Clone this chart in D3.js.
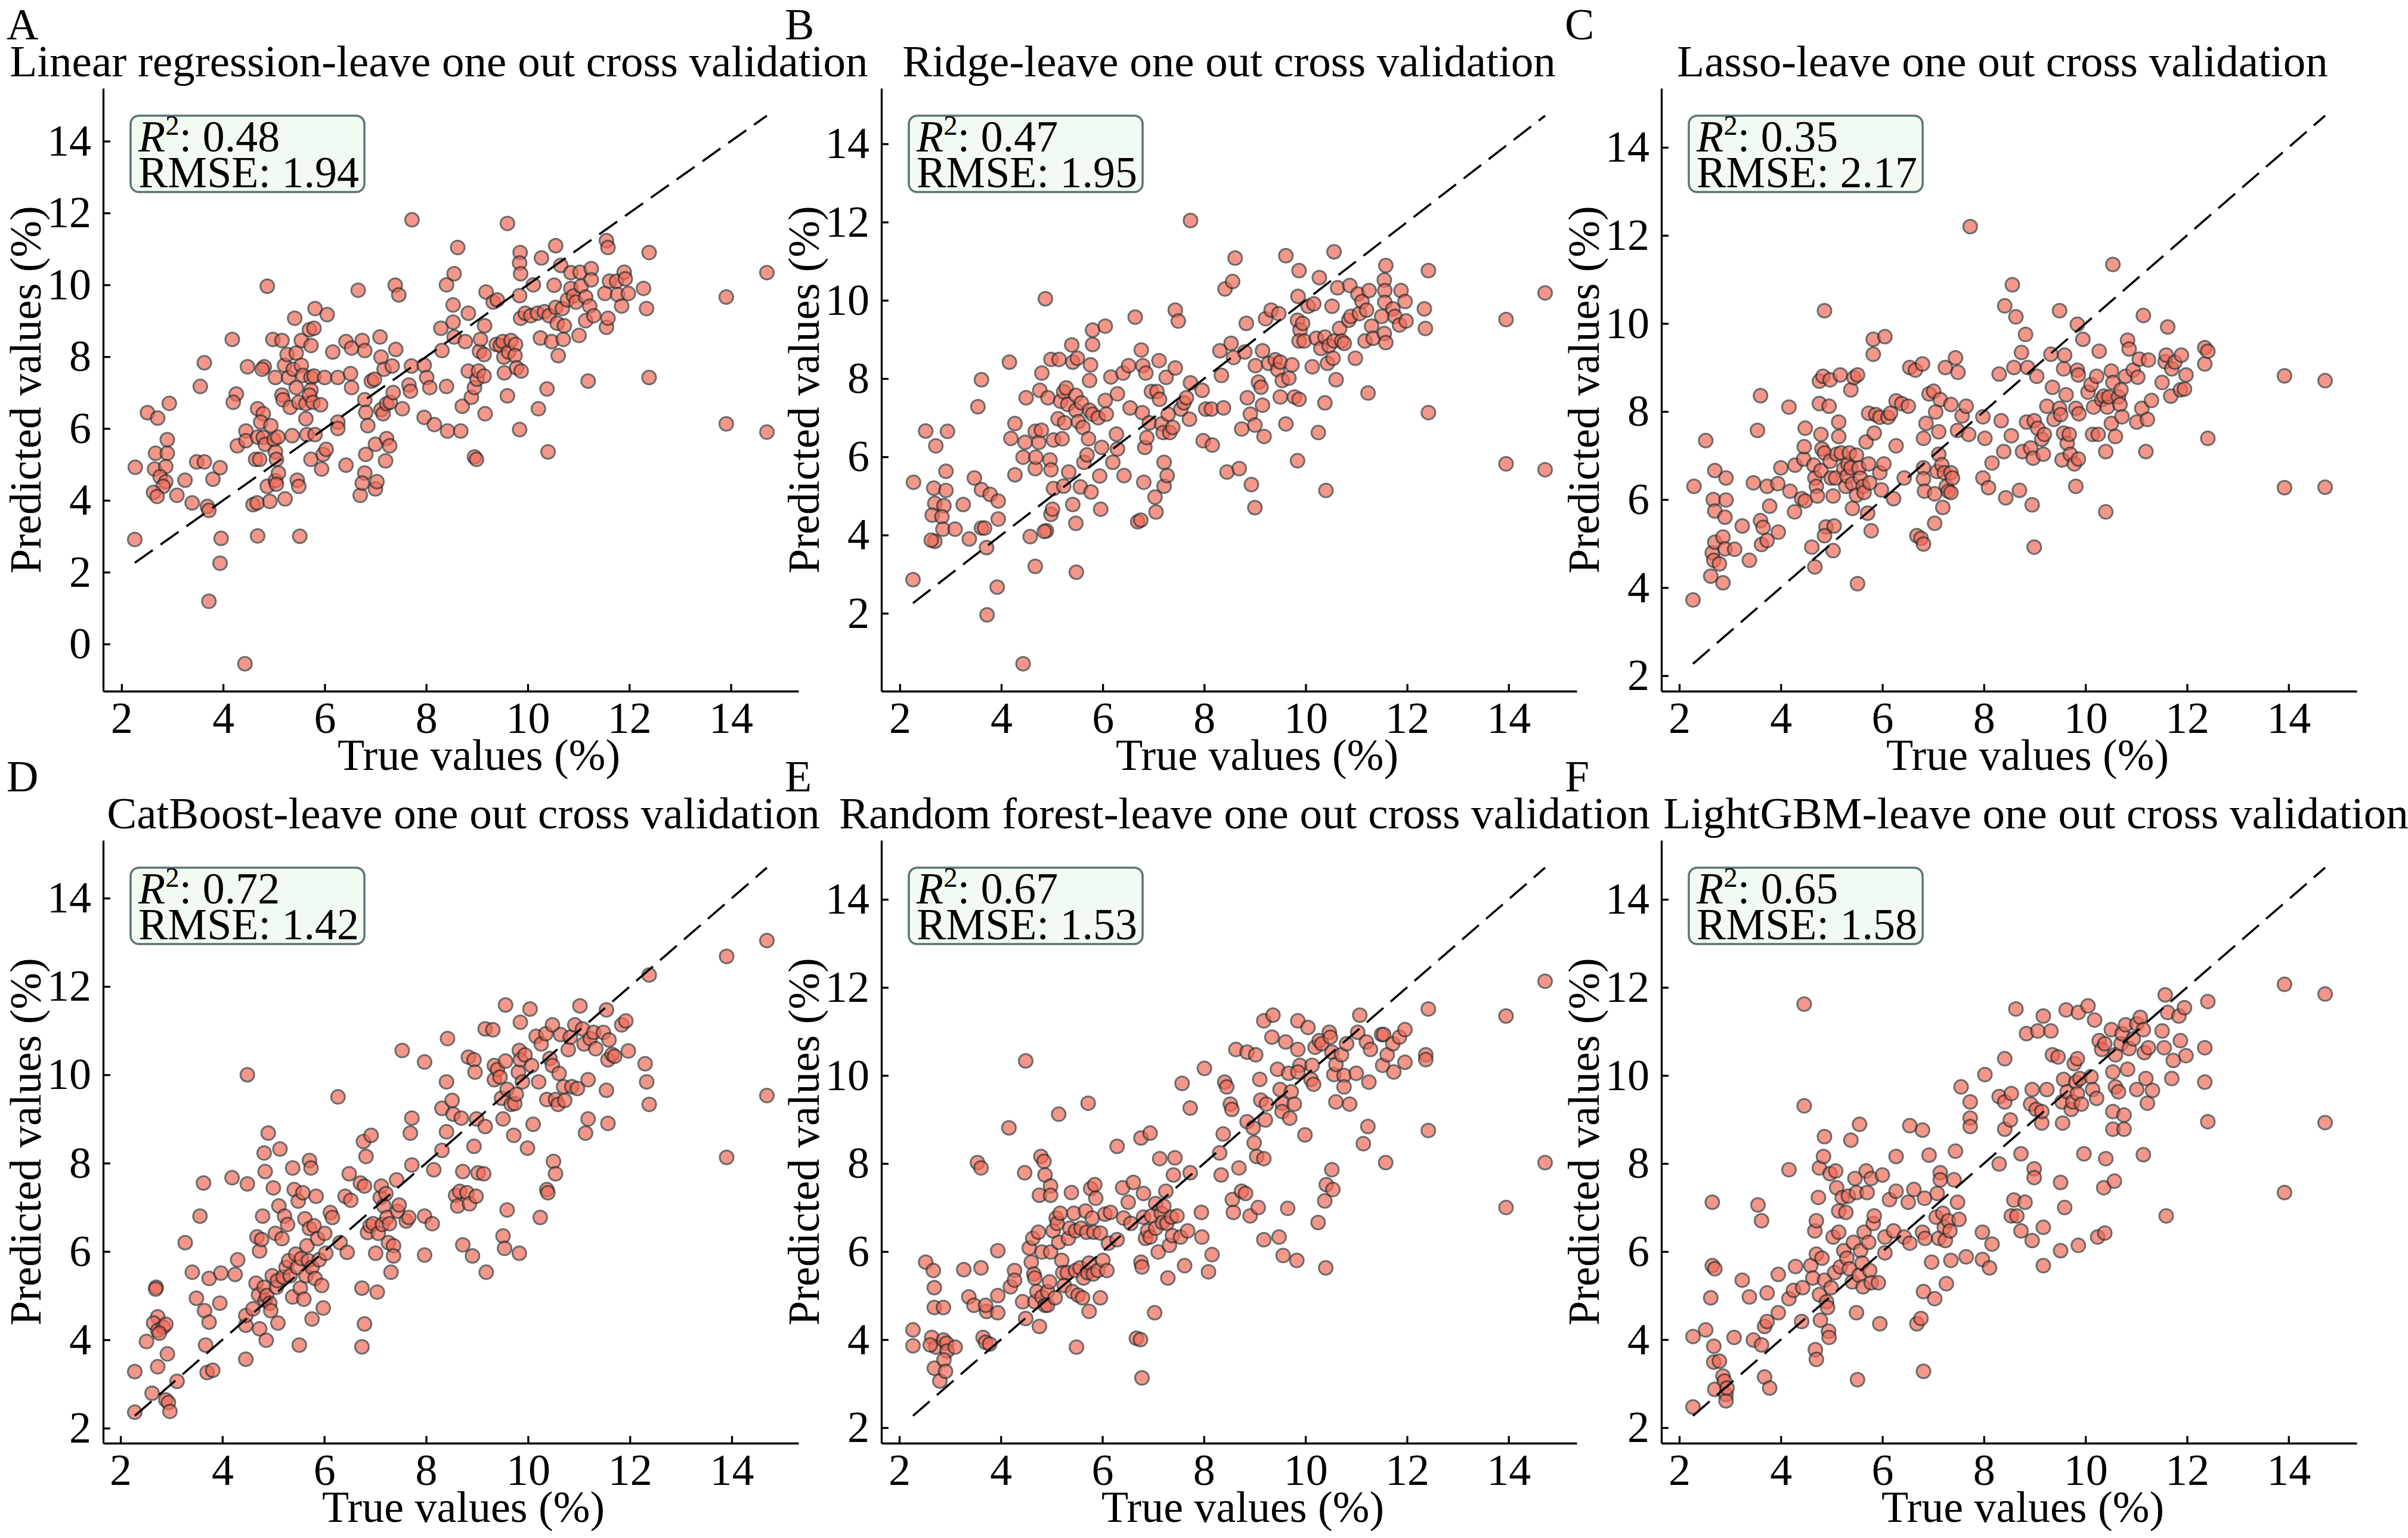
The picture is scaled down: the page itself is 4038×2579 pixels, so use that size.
<!DOCTYPE html>
<html><head><meta charset="utf-8">
<script src="https://cdn.jsdelivr.net/npm/d3@7"></script>
<style>
body{margin:0;background:#fff;}
svg text{font-family:"Liberation Serif","Times New Roman",serif;}
</style>
</head><body>
<svg id="chart" width="4038" height="2579"></svg>
<script>
// ---------- DATA ----------
const panelLetters = ["A","B","C","D","E","F"];
const panelTitles = [
  "Linear regression-leave one out cross validation",
  "Ridge-leave one out cross validation",
  "Lasso-leave one out cross validation",
  "CatBoost-leave one out cross validation",
  "Random forest-leave one out cross validation",
  "LightGBM-leave one out cross validation"
];
const r2Values = ["0.48","0.47","0.35","0.72","0.67","0.65"];
const rmseValues = ["1.94","1.95","2.17","1.42","1.53","1.58"];
const xLabel = "True values (%)";
const yLabel = "Predicted values (%)";
const xTickValues = [2,4,6,8,10,12,14];
const yTicksLinear = [0,2,4,6,8,10,12,14];
const yTicksOther = [2,4,6,8,10,12,14];

// [true value, predicted value]
const linearPts = [[2.26,2.91],[2.27,4.92],[2.51,6.44],[2.71,6.29],[2.94,6.70],[2.90,5.69],[2.67,5.31],[2.90,5.31],[2.65,4.87],[2.87,4.94],[2.76,4.66],[2.87,4.52],[2.82,4.39],[2.63,4.22],[2.70,4.11],[3.09,4.14],[3.25,4.56],[3.39,3.93],[3.48,5.07],[3.63,5.07],[3.69,3.83],[3.72,3.72],[3.55,7.17],[3.63,7.83],[3.80,4.59],[3.94,4.91],[3.96,2.94],[3.94,2.25],[3.72,1.19],[4.43,-0.55],[4.18,8.48],[4.26,6.96],[4.20,6.73],[4.28,5.52],[4.45,5.93],[4.48,7.72],[4.45,5.66],[4.59,3.88],[4.67,3.93],[4.68,3.01],[4.64,5.14],[4.72,5.14],[4.68,5.76],[4.79,5.75],[4.68,6.55],[4.79,6.41],[4.74,6.18],[4.81,7.72],[4.77,7.65],[4.87,9.96],[4.83,5.56],[4.87,4.39],[4.92,3.97],[4.94,6.08],[5.00,5.69],[5.03,5.35],[5.05,5.14],[5.03,4.55],[5.09,4.76],[5.05,4.45],[4.98,8.48],[5.16,8.45],[5.03,7.42],[5.08,5.76],[5.16,6.93],[5.18,6.80],[5.22,4.04],[5.21,7.76],[5.26,8.06],[5.29,7.42],[5.32,6.59],[5.36,5.80],[5.41,9.07],[5.44,8.10],[5.38,7.65],[5.44,7.14],[5.46,4.56],[5.49,4.39],[5.51,3.00],[5.54,8.45],[5.54,7.76],[5.57,7.48],[5.49,6.73],[5.63,6.69],[5.63,6.27],[5.65,5.83],[5.70,8.75],[5.79,8.79],[5.81,9.34],[5.73,8.31],[5.73,7.42],[5.79,7.46],[5.73,7.07],[5.70,6.93],[5.77,6.73],[5.73,5.14],[5.81,5.83],[5.92,6.66],[5.94,4.87],[5.97,5.28],[6.03,5.42],[6.00,7.42],[6.05,9.17],[6.16,8.13],[6.26,6.18],[6.26,6.00],[6.26,7.42],[6.42,4.98],[6.42,8.42],[6.53,8.24],[6.53,7.14],[6.51,7.53],[6.66,9.85],[6.70,4.14],[6.74,8.45],[6.79,8.17],[6.81,5.28],[6.79,4.76],[6.74,4.48],[6.79,6.80],[6.81,6.45],[6.85,6.08],[6.92,7.32],[6.98,7.37],[7.00,4.32],[7.03,4.52],[7.00,5.56],[7.09,8.55],[7.11,7.99],[7.17,7.65],[7.11,6.52],[7.15,6.41],[7.20,5.10],[7.22,5.72],[7.28,5.52],[7.22,6.69],[7.29,6.73],[7.35,7.00],[7.33,7.74],[7.39,9.99],[7.46,9.72],[7.40,8.20],[7.53,6.55],[7.66,7.21],[7.69,7.04],[7.71,7.74],[7.72,11.81],[7.96,7.76],[8.01,7.42],[8.07,7.14],[7.96,6.31],[8.16,6.11],[8.31,8.17],[8.29,8.79],[8.40,7.17],[8.42,5.93],[8.40,10.00],[8.55,10.31],[8.62,11.04],[8.53,9.44],[8.53,8.96],[8.55,8.55],[8.68,5.93],[8.71,6.62],[8.77,8.42],[8.83,9.21],[8.83,7.60],[8.89,6.87],[8.95,5.21],[8.99,5.14],[8.95,7.14],[9.00,7.37],[9.03,7.60],[9.05,8.15],[9.07,8.48],[9.14,8.06],[9.14,7.46],[9.16,6.41],[9.15,8.86],[9.18,9.80],[9.32,9.52],[9.40,9.58],[9.38,8.34],[9.46,8.31],[9.51,8.42],[9.54,7.55],[9.60,6.91],[9.53,7.99],[9.60,11.71],[9.62,8.13],[9.67,8.45],[9.76,8.34],[9.75,8.03],[9.78,7.69],[9.87,7.60],[9.84,9.70],[9.84,5.97],[9.85,10.90],[9.84,10.61],[9.86,10.31],[9.86,9.07],[9.95,9.21],[10.06,9.14],[10.11,10.00],[10.19,9.21],[10.25,8.52],[10.27,10.75],[10.21,6.55],[10.38,7.10],[10.40,5.35],[10.33,9.25],[10.42,9.14],[10.47,8.42],[10.52,9.99],[10.55,11.09],[10.55,9.37],[10.58,8.93],[10.60,8.03],[10.65,10.54],[10.68,9.34],[10.72,8.86],[10.70,8.48],[10.78,9.58],[10.85,10.34],[10.85,9.90],[10.90,9.69],[10.95,9.52],[11.01,8.59],[11.03,10.35],[11.05,9.96],[11.14,9.66],[11.14,9.00],[11.19,7.32],[11.22,9.41],[11.25,10.45],[11.25,10.14],[11.30,9.14],[11.55,11.23],[11.58,11.04],[11.52,9.76],[11.55,8.82],[11.58,9.07],[11.61,10.10],[11.75,10.10],[11.77,9.73],[11.85,9.41],[11.90,10.35],[11.92,10.17],[11.98,9.76],[12.28,9.90],[12.34,9.34],[12.39,10.90],[12.39,7.42],[13.91,9.66],[13.91,6.13],[14.71,10.34],[14.71,5.90]];

const ridgePts = [[2.27,5.35],[2.26,2.86],[2.51,6.66],[2.71,6.28],[2.94,6.65],[2.91,5.63],[2.67,5.20],[2.91,5.14],[2.69,4.81],[2.87,4.75],[2.64,4.51],[2.83,4.47],[2.85,4.15],[2.69,3.84],[2.62,3.87],[3.09,4.15],[3.25,4.78],[3.37,3.90],[3.47,5.46],[3.54,7.28],[3.61,7.97],[3.61,5.16],[3.61,4.18],[3.67,4.18],[3.78,5.04],[3.71,3.68],[3.72,1.96],[3.94,4.87],[3.94,4.41],[3.92,2.67],[4.16,8.42],[4.19,6.47],[4.27,6.85],[4.27,5.54],[4.43,5.99],[4.49,7.51],[4.47,6.37],[4.43,0.71],[4.57,3.96],[4.67,3.20],[4.67,6.65],[4.67,5.70],[4.68,5.99],[4.74,6.37],[4.79,6.68],[4.76,7.70],[4.80,8.14],[4.87,10.04],[4.89,4.11],[4.85,4.09],[4.96,5.92],[4.92,7.51],[4.98,5.67],[4.98,4.53],[5.01,4.66],[5.03,5.19],[4.98,8.49],[5.03,6.43],[5.12,6.97],[5.14,8.49],[5.17,7.42],[5.20,6.46],[5.23,5.25],[5.23,7.66],[5.28,7.76],[5.25,6.87],[5.31,7.34],[5.33,5.61],[5.39,8.86],[5.41,8.42],[5.41,4.78],[5.47,4.30],[5.48,3.05],[5.50,8.52],[5.47,7.57],[5.47,7.19],[5.52,6.90],[5.56,5.23],[5.58,7.38],[5.63,5.86],[5.61,6.75],[5.69,6.05],[5.72,6.46],[5.74,7.19],[5.76,8.35],[5.74,7.95],[5.80,9.24],[5.77,5.10],[5.80,8.87],[5.80,7.09],[5.91,7.00],[5.94,5.51],[5.96,4.66],[5.98,6.24],[6.05,9.34],[6.05,7.44],[6.07,7.09],[6.16,8.04],[6.20,5.86],[6.27,6.58],[6.29,6.20],[6.29,7.61],[6.42,5.52],[6.40,8.14],[6.51,8.33],[6.54,7.25],[6.64,9.57],[6.69,4.34],[6.75,4.38],[6.76,8.73],[6.79,8.33],[6.78,7.13],[6.81,5.35],[6.83,6.24],[6.85,8.14],[6.87,6.49],[6.92,6.87],[6.96,7.67],[7.03,4.97],[7.05,4.59],[7.07,7.67],[7.11,8.46],[7.12,7.47],[7.16,6.84],[7.21,5.86],[7.19,6.62],[7.21,5.25],[7.27,5.52],[7.25,8.03],[7.29,7.09],[7.32,6.62],[7.38,6.75],[7.43,8.27],[7.43,9.75],[7.49,9.47],[7.54,7.22],[7.60,7.38],[7.65,7.51],[7.73,7.89],[7.71,6.96],[7.73,12.04],[7.96,7.70],[7.98,6.41],[8.03,7.22],[8.14,7.22],[8.16,6.30],[8.34,8.08],[8.31,8.71],[8.38,7.25],[8.41,10.29],[8.45,5.61],[8.53,8.90],[8.56,10.48],[8.58,8.54],[8.61,11.08],[8.69,5.70],[8.74,6.71],[8.80,8.68],[8.83,9.41],[8.85,7.51],[8.91,7.09],[8.93,5.29],[9.00,4.70],[9.00,6.81],[9.01,8.33],[9.07,7.91],[9.12,7.78],[9.15,7.32],[9.15,8.71],[9.18,6.52],[9.21,9.53],[9.27,8.39],[9.32,9.75],[9.40,8.48],[9.45,8.23],[9.47,9.66],[9.50,8.42],[9.50,7.53],[9.54,7.95],[9.61,11.14],[9.61,6.84],[9.67,8.01],[9.73,8.35],[9.78,7.53],[9.84,5.90],[9.87,7.47],[9.87,10.76],[9.85,10.10],[9.84,9.49],[9.89,9.24],[9.87,8.96],[9.94,9.41],[9.97,8.96],[10.05,9.85],[10.13,8.30],[10.16,9.91],[10.21,9.03],[10.25,6.62],[10.27,10.58],[10.30,8.77],[10.38,7.38],[10.38,9.06],[10.40,5.14],[10.43,8.39],[10.46,8.84],[10.52,9.85],[10.54,8.52],[10.56,11.24],[10.56,8.96],[10.60,7.97],[10.63,10.32],[10.67,9.28],[10.71,8.96],[10.76,8.90],[10.85,9.49],[10.87,10.38],[10.89,9.59],[10.98,8.52],[11.03,10.16],[11.06,9.66],[11.11,9.97],[11.17,8.96],[11.20,9.75],[11.25,10.25],[11.23,7.63],[11.30,9.34],[11.33,9.03],[11.50,9.59],[11.55,10.52],[11.56,10.25],[11.58,10.89],[11.56,9.95],[11.55,9.15],[11.58,8.92],[11.72,9.78],[11.76,9.59],[11.85,9.37],[11.88,10.25],[11.96,9.97],[11.98,9.47],[12.34,9.78],[12.36,9.28],[12.42,10.76],[12.42,7.13],[13.95,9.51],[13.95,5.82],[14.72,10.19],[14.72,5.67]];

const lassoPts = [[2.27,3.72],[2.29,6.30],[2.52,7.34],[2.70,6.66],[2.67,6.00],[2.70,5.74],[2.65,4.79],[2.70,5.03],[2.68,4.62],[2.79,4.54],[2.62,4.26],[2.86,4.11],[2.92,6.49],[2.92,5.99],[2.90,5.60],[2.86,5.15],[2.90,4.88],[3.09,4.87],[3.24,5.40],[3.38,4.62],[3.46,6.38],[3.54,7.57],[3.60,8.36],[3.60,5.52],[3.65,5.37],[3.62,4.98],[3.73,6.30],[3.73,5.07],[3.78,5.85],[3.95,5.26],[3.94,6.36],[4.00,6.72],[4.16,8.10],[4.18,6.19],[4.27,5.72],[4.28,6.78],[4.41,6.02],[4.45,6.92],[4.46,7.20],[4.48,7.62],[4.48,5.97],[4.61,4.92],[4.67,4.47],[4.65,6.78],[4.67,6.49],[4.70,6.30],[4.72,6.08],[4.76,8.69],[4.76,8.18],[4.79,7.48],[4.81,7.15],[4.79,6.66],[4.83,8.80],[4.86,10.29],[4.86,7.06],[4.89,5.38],[4.86,5.18],[4.95,8.12],[4.97,8.72],[4.97,6.87],[4.99,6.49],[5.03,6.08],[5.05,5.40],[5.03,4.84],[5.08,6.49],[5.10,7.03],[5.14,7.76],[5.14,7.43],[5.17,8.83],[5.19,7.06],[5.24,6.70],[5.28,6.30],[5.30,6.53],[5.32,6.81],[5.35,7.06],[5.38,8.49],[5.38,6.72],[5.41,6.36],[5.41,5.80],[5.44,8.77],[5.49,7.01],[5.49,6.10],[5.51,8.83],[5.51,4.09],[5.54,6.72],[5.57,6.49],[5.62,6.30],[5.64,6.16],[5.68,7.31],[5.71,5.69],[5.73,7.96],[5.73,6.81],[5.75,6.38],[5.78,5.29],[5.82,9.64],[5.82,9.30],[5.84,7.51],[5.87,7.93],[5.95,7.87],[5.95,6.61],[5.98,6.22],[6.03,6.81],[6.05,9.70],[6.11,7.87],[6.16,7.96],[6.22,6.02],[6.27,8.24],[6.27,7.22],[6.38,8.18],[6.43,6.49],[6.51,8.12],[6.54,9.00],[6.65,8.94],[6.68,5.18],[6.76,5.12],[6.81,4.99],[6.79,9.08],[6.81,7.39],[6.81,6.72],[6.81,6.47],[6.83,6.19],[6.86,7.73],[6.92,8.40],[7.01,8.46],[7.03,6.13],[7.03,5.46],[7.05,7.99],[7.08,6.64],[7.11,7.54],[7.11,7.03],[7.14,8.27],[7.17,6.79],[7.19,5.82],[7.22,6.61],[7.24,9.00],[7.26,6.30],[7.30,6.19],[7.35,8.16],[7.35,6.61],[7.38,6.49],[7.35,6.16],[7.44,9.22],[7.49,8.89],[7.48,7.57],[7.57,7.90],[7.65,8.12],[7.70,7.48],[7.73,12.20],[7.98,6.49],[7.98,7.88],[8.02,7.39],[8.09,6.27],[8.16,6.83],[8.30,8.85],[8.34,7.79],[8.39,7.09],[8.41,10.40],[8.43,6.04],[8.54,7.45],[8.56,10.88],[8.59,9.00],[8.63,10.15],[8.70,6.21],[8.74,9.34],[8.76,7.09],[8.82,9.75],[8.84,7.76],[8.86,9.00],[8.92,7.17],[8.95,5.88],[8.97,6.94],[8.99,4.92],[8.99,7.79],[9.04,8.80],[9.06,7.62],[9.14,7.37],[9.17,7.03],[9.19,7.48],[9.24,8.12],[9.32,9.30],[9.35,8.55],[9.38,7.82],[9.49,10.29],[9.49,8.07],[9.51,7.93],[9.54,6.90],[9.57,8.97],[9.57,7.51],[9.59,9.28],[9.62,8.38],[9.64,7.28],[9.68,7.48],[9.70,7.03],[9.78,6.81],[9.81,8.07],[9.81,6.30],[9.84,8.94],[9.84,9.98],[9.86,8.83],[9.87,7.95],[9.86,6.92],[9.95,9.64],[10.05,8.44],[10.11,8.61],[10.14,7.48],[10.16,8.10],[10.22,8.80],[10.25,7.48],[10.27,9.37],[10.32,8.27],[10.36,8.35],[10.40,7.09],[10.40,5.72],[10.43,8.10],[10.46,8.33],[10.51,7.73],[10.51,8.92],[10.54,11.34],[10.54,8.66],[10.59,7.43],[10.65,8.33],[10.68,8.16],[10.70,8.49],[10.72,7.88],[10.79,8.80],[10.83,9.62],[10.86,9.42],[10.94,8.94],[11.01,7.76],[11.03,8.78],[11.06,9.19],[11.11,8.07],[11.14,10.18],[11.19,7.09],[11.22,7.82],[11.24,9.17],[11.30,8.25],[11.51,8.66],[11.57,9.13],[11.59,9.28],[11.62,9.92],[11.68,8.35],[11.70,8.97],[11.76,9.12],[11.87,8.49],[11.89,9.28],[11.95,8.51],[11.98,8.83],[12.35,9.45],[12.35,9.08],[12.41,9.37],[12.41,7.39],[13.92,8.81],[13.92,6.27],[14.72,8.70],[14.72,6.28]];

const catboostPts = [[2.28,2.36],[2.28,3.28],[2.51,3.96],[2.62,2.79],[2.70,5.19],[2.69,5.15],[2.73,4.52],[2.65,4.38],[2.73,4.21],[2.84,4.29],[2.89,4.35],[2.76,4.15],[2.73,3.39],[2.92,3.68],[2.89,2.64],[2.94,2.58],[2.97,2.38],[3.11,3.06],[3.27,6.20],[3.41,5.53],[3.49,4.94],[3.56,6.80],[3.63,7.55],[3.65,4.66],[3.67,3.88],[3.70,3.26],[3.81,3.31],[3.74,4.40],[3.74,5.39],[3.95,4.83],[3.97,5.51],[4.19,7.67],[4.25,5.48],[4.30,5.81],[4.46,3.56],[4.46,4.33],[4.49,10.00],[4.49,7.53],[4.46,4.55],[4.60,4.70],[4.66,5.28],[4.68,6.33],[4.71,5.02],[4.73,6.01],[4.73,4.25],[4.77,6.27],[4.79,6.80],[4.82,8.23],[4.84,7.81],[4.82,5.19],[4.84,4.89],[4.86,3.99],[4.90,8.68],[4.87,5.00],[4.93,4.83],[4.95,4.66],[4.98,5.45],[5.00,7.44],[5.04,6.41],[5.06,5.19],[5.08,5.34],[5.09,4.38],[5.11,7.03],[5.13,8.32],[5.17,6.29],[5.19,5.42],[5.22,6.80],[5.25,5.64],[5.28,6.61],[5.30,5.79],[5.33,5.45],[5.38,7.89],[5.38,4.97],[5.41,7.40],[5.44,5.94],[5.47,5.64],[5.49,7.14],[5.51,3.88],[5.53,5.17],[5.55,5.84],[5.58,7.33],[5.60,4.92],[5.62,6.74],[5.64,5.45],[5.66,6.13],[5.69,5.79],[5.71,6.52],[5.71,8.06],[5.74,7.89],[5.76,5.64],[5.76,4.47],[5.80,6.58],[5.82,5.39],[5.84,7.25],[5.87,6.29],[5.90,5.81],[5.95,5.23],[5.98,4.72],[6.01,6.41],[6.03,5.96],[6.12,6.88],[6.16,6.77],[6.27,9.50],[6.31,6.20],[6.41,7.25],[6.45,5.98],[6.49,7.76],[6.52,7.16],[6.71,7.55],[6.74,5.17],[6.74,3.84],[6.77,8.49],[6.79,4.36],[6.82,8.15],[6.79,7.48],[6.85,6.43],[6.90,6.58],[6.92,8.63],[6.96,6.63],[7.01,5.96],[7.04,5.08],[7.06,6.41],[7.10,7.22],[7.12,7.48],[7.14,6.61],[7.17,7.03],[7.21,7.31],[7.23,6.77],[7.26,6.20],[7.28,6.63],[7.31,5.53],[7.36,6.13],[7.36,5.90],[7.42,7.62],[7.44,6.91],[7.47,7.05],[7.53,10.55],[7.61,6.69],[7.66,6.77],[7.72,9.02],[7.69,8.68],[7.72,7.96],[7.97,10.29],[7.97,6.80],[7.97,5.92],[8.12,6.63],[8.15,7.85],[8.31,8.29],[8.31,9.24],[8.40,9.84],[8.42,10.82],[8.40,8.71],[8.51,9.42],[8.53,9.11],[8.58,7.27],[8.62,7.03],[8.66,7.36],[8.69,9.02],[8.72,7.81],[8.72,6.15],[8.80,7.33],[8.83,10.40],[8.85,7.08],[8.91,5.90],[8.94,10.34],[8.96,10.06],[8.94,8.38],[8.98,7.25],[8.99,9.00],[9.02,7.78],[9.13,7.76],[9.16,11.04],[9.16,8.83],[9.18,5.53],[9.31,11.02],[9.34,10.21],[9.34,9.89],[9.40,10.12],[9.45,9.95],[9.48,9.47],[9.51,9.00],[9.51,6.35],[9.54,6.07],[9.56,10.31],[9.56,11.58],[9.59,9.67],[9.59,6.94],[9.67,9.33],[9.72,8.63],[9.74,9.35],[9.77,9.56],[9.81,10.06],[9.83,10.55],[9.85,10.34],[9.83,5.96],[9.85,11.19],[9.89,9.84],[9.94,10.45],[9.99,8.34],[10.04,11.49],[10.07,10.21],[10.10,8.88],[10.16,10.87],[10.21,9.84],[10.24,6.77],[10.26,10.70],[10.35,10.93],[10.37,9.44],[10.37,7.40],[10.39,7.33],[10.43,10.37],[10.48,11.13],[10.48,10.21],[10.50,8.04],[10.54,7.76],[10.54,9.44],[10.59,9.33],[10.61,10.03],[10.64,10.91],[10.70,9.73],[10.72,9.42],[10.79,10.57],[10.83,10.85],[10.86,9.73],[10.92,11.13],[10.97,9.69],[11.02,11.56],[11.07,11.04],[11.10,10.70],[11.13,8.68],[11.18,9.00],[11.18,9.89],[11.22,10.82],[11.29,10.96],[11.33,10.59],[11.48,10.96],[11.54,9.65],[11.54,11.47],[11.57,10.34],[11.57,8.90],[11.59,10.79],[11.65,10.46],[11.70,10.42],[11.84,11.13],[11.92,11.22],[11.97,10.54],[12.30,10.25],[12.33,9.84],[12.38,9.33],[12.38,12.26],[13.90,12.68],[13.90,8.13],[14.69,13.04],[14.69,9.53]];

const randomForestPts = [[2.27,4.22],[2.27,3.86],[2.52,5.76],[2.67,5.57],[2.69,5.18],[2.69,4.73],[2.87,4.73],[2.64,4.05],[2.72,3.83],[2.61,3.88],[2.87,3.99],[2.93,3.92],[2.94,3.74],[3.10,3.83],[2.69,3.35],[2.88,3.54],[2.80,3.06],[2.91,3.28],[3.27,5.59],[3.37,4.97],[3.47,4.78],[3.54,8.02],[3.61,7.90],[3.61,5.63],[3.65,4.05],[3.72,4.64],[3.70,3.94],[3.78,3.90],[3.70,4.78],[3.94,6.02],[3.94,5.00],[3.94,4.61],[4.16,8.81],[4.19,5.20],[4.27,5.57],[4.27,5.35],[4.43,4.86],[4.47,7.79],[4.49,10.33],[4.49,4.48],[4.56,6.08],[4.60,5.76],[4.63,6.30],[4.65,5.49],[4.67,5.40],[4.67,4.86],[4.71,5.09],[4.74,6.44],[4.76,4.30],[4.76,7.28],[4.79,8.16],[4.81,5.99],[4.85,8.05],[4.87,7.74],[4.81,4.97],[4.87,4.78],[4.92,5.09],[4.92,4.78],[4.96,5.31],[4.98,7.49],[4.98,7.28],[4.98,5.99],[5.03,6.47],[5.07,4.95],[5.09,6.76],[5.11,6.64],[5.14,9.12],[5.14,6.21],[5.17,6.87],[5.20,5.80],[5.22,5.52],[5.25,5.23],[5.31,5.52],[5.33,6.30],[5.36,6.53],[5.39,7.34],[5.41,5.09],[5.44,6.87],[5.47,5.57],[5.47,6.47],[5.49,3.83],[5.52,5.01],[5.56,5.63],[5.58,6.53],[5.61,4.95],[5.63,5.40],[5.67,6.92],[5.69,6.44],[5.71,5.52],[5.72,9.37],[5.74,5.74],[5.74,4.64],[5.77,7.43],[5.80,6.76],[5.82,5.49],[5.83,6.44],[5.85,7.52],[5.87,7.21],[5.91,5.57],[5.96,6.42],[5.96,4.95],[6.01,5.80],[6.05,6.85],[6.09,5.57],[6.12,6.19],[6.16,6.89],[6.29,6.27],[6.29,8.39],[6.40,7.45],[6.42,6.76],[6.51,7.12],[6.56,6.64],[6.61,7.57],[6.67,4.03],[6.75,4.00],[6.78,3.13],[6.76,8.58],[6.76,5.76],[6.78,5.65],[6.81,7.32],[6.81,6.78],[6.85,6.30],[6.89,6.47],[6.94,8.69],[6.94,6.33],[6.97,6.81],[7.03,4.61],[7.05,7.09],[7.05,6.53],[7.10,5.99],[7.13,8.11],[7.16,6.87],[7.18,6.66],[7.21,7.03],[7.25,7.37],[7.27,6.64],[7.29,5.40],[7.32,6.14],[7.36,6.78],[7.38,6.36],[7.40,7.74],[7.43,8.13],[7.47,6.81],[7.54,6.33],[7.57,9.82],[7.62,5.68],[7.68,6.47],[7.73,9.26],[7.73,7.79],[7.95,6.89],[7.96,6.33],[8.01,10.16],[8.09,5.54],[8.16,5.93],[8.31,8.24],[8.34,7.74],[8.38,8.67],[8.41,9.85],[8.45,9.74],[8.52,9.35],[8.55,9.23],[8.56,7.18],[8.58,6.89],[8.63,10.59],[8.69,7.90],[8.74,7.37],[8.82,7.32],[8.85,10.53],[8.85,8.95],[8.91,6.81],[8.97,8.81],[8.99,8.47],[9.02,10.47],[9.04,8.16],[9.07,7.00],[9.10,9.91],[9.12,9.44],[9.18,11.24],[9.18,8.11],[9.18,6.27],[9.21,8.99],[9.23,9.35],[9.34,10.87],[9.36,11.37],[9.45,10.14],[9.48,6.33],[9.50,9.68],[9.54,9.37],[9.54,9.18],[9.56,5.91],[9.61,10.76],[9.65,6.98],[9.67,10.05],[9.69,9.03],[9.72,9.63],[9.78,9.35],[9.83,5.80],[9.85,11.24],[9.85,10.59],[9.89,10.23],[9.85,10.08],[9.99,8.65],[10.05,11.09],[10.11,9.91],[10.13,10.23],[10.16,9.80],[10.19,10.64],[10.25,6.66],[10.27,10.79],[10.32,10.72],[10.38,7.15],[10.40,5.63],[10.41,7.52],[10.47,10.98],[10.49,10.87],[10.52,10.53],[10.52,7.86],[10.56,10.02],[10.54,7.41],[10.60,10.25],[10.60,9.40],[10.71,10.47],[10.76,10.00],[10.76,9.74],[10.81,10.72],[10.87,9.35],[11.00,10.05],[11.03,10.98],[11.07,11.37],[11.14,8.45],[11.20,10.76],[11.23,8.84],[11.25,9.85],[11.28,10.59],[11.50,10.93],[11.52,10.23],[11.54,10.93],[11.61,10.47],[11.58,8.02],[11.72,10.72],[11.74,10.08],[11.85,10.87],[11.96,11.04],[11.96,10.30],[12.37,10.47],[12.37,10.36],[12.42,11.51],[12.42,8.75],[13.95,11.35],[13.95,7.00],[14.72,12.14],[14.72,8.02]];

const lightgbmPts = [[2.27,2.47],[2.27,4.07],[2.52,4.22],[2.65,7.12],[2.65,5.68],[2.70,5.61],[2.62,4.95],[2.68,3.85],[2.68,3.49],[2.79,3.51],[2.70,2.87],[2.86,3.17],[2.89,3.06],[2.92,2.75],[2.92,2.61],[2.94,2.90],[3.08,4.05],[3.24,5.35],[3.38,4.97],[3.46,3.99],[3.55,7.06],[3.62,6.70],[3.62,3.88],[3.68,4.30],[3.73,5.06],[3.68,3.15],[3.78,2.90],[3.73,4.41],[3.95,4.61],[3.95,5.48],[4.16,7.86],[4.16,4.93],[4.29,5.66],[4.25,5.12],[4.41,4.41],[4.43,5.18],[4.46,11.62],[4.46,9.31],[4.59,5.68],[4.63,5.40],[4.67,6.47],[4.70,6.70],[4.70,5.94],[4.68,3.77],[4.70,3.55],[4.74,7.23],[4.76,7.90],[4.76,5.02],[4.78,4.44],[4.81,5.85],[4.86,8.61],[4.84,8.16],[4.86,5.35],[4.90,4.86],[4.92,4.73],[4.94,4.19],[4.95,4.05],[4.97,7.77],[4.99,5.18],[5.03,6.33],[5.06,5.52],[5.08,7.83],[5.10,7.45],[5.14,6.44],[5.14,6.92],[5.17,5.65],[5.21,7.23],[5.24,6.02],[5.28,6.89],[5.30,5.85],[5.33,7.26],[5.35,5.61],[5.38,8.53],[5.41,5.31],[5.43,6.21],[5.46,7.66],[5.49,4.61],[5.49,7.34],[5.51,3.09],[5.54,5.46],[5.55,8.89],[5.57,6.02],[5.60,5.74],[5.62,5.20],[5.64,6.44],[5.68,7.83],[5.70,7.34],[5.73,6.21],[5.75,5.57],[5.78,7.66],[5.78,5.29],[5.82,6.64],[5.84,6.81],[5.92,5.29],[5.95,4.36],[6.00,7.74],[6.05,5.97],[6.05,6.33],[6.14,7.18],[6.22,6.47],[6.27,8.16],[6.27,7.37],[6.43,6.33],[6.51,7.12],[6.54,6.19],[6.54,8.86],[6.62,7.41],[6.68,4.36],[6.76,4.48],[6.79,8.76],[6.79,6.44],[6.81,5.09],[6.83,7.21],[6.84,6.30],[6.81,3.28],[6.92,8.19],[6.97,5.76],[7.03,4.93],[7.06,6.78],[7.08,7.32],[7.11,6.30],[7.14,7.79],[7.14,7.63],[7.19,6.87],[7.22,6.55],[7.24,6.25],[7.26,5.27],[7.30,6.70],[7.33,6.47],[7.35,5.80],[7.41,7.63],[7.44,8.28],[7.48,7.12],[7.51,6.73],[7.55,9.74],[7.65,5.88],[7.73,9.40],[7.73,9.03],[7.73,8.84],[7.97,5.82],[7.97,6.44],[8.02,10.02],[8.11,5.63],[8.16,6.17],[8.30,7.99],[8.30,9.52],[8.41,10.38],[8.41,9.40],[8.41,8.78],[8.52,8.99],[8.54,9.59],[8.54,6.81],[8.59,7.17],[8.63,11.51],[8.65,6.81],[8.73,8.22],[8.73,6.47],[8.81,7.12],[8.84,10.95],[8.92,9.35],[8.95,9.68],[8.95,6.25],[8.99,7.88],[8.99,7.68],[9.03,9.23],[9.06,11.01],[9.14,8.92],[9.14,9.18],[9.17,11.35],[9.17,6.55],[9.17,5.68],[9.24,9.68],[9.32,11.01],[9.35,10.47],[9.46,10.42],[9.51,7.57],[9.51,6.02],[9.54,9.40],[9.55,8.92],[9.57,9.91],[9.59,7.00],[9.62,11.49],[9.64,9.63],[9.72,9.23],[9.75,9.40],[9.78,10.27],[9.81,9.85],[9.84,10.38],[9.84,9.59],[9.86,11.43],[9.86,6.14],[9.89,9.93],[9.92,9.35],[9.97,8.22],[10.05,11.58],[10.11,9.97],[10.14,9.68],[10.18,11.26],[10.22,9.48],[10.24,6.33],[10.27,10.79],[10.32,10.59],[10.38,10.72],[10.40,8.11],[10.38,6.42],[10.36,7.45],[10.51,11.04],[10.54,10.08],[10.54,9.18],[10.54,8.78],[10.57,7.60],[10.59,10.47],[10.59,9.74],[10.65,9.63],[10.70,10.72],[10.72,10.95],[10.76,9.10],[10.76,8.78],[10.79,11.15],[10.83,10.14],[10.86,10.61],[10.94,10.83],[11.01,11.17],[11.01,9.68],[11.08,11.32],[11.14,11.04],[11.14,8.20],[11.16,10.52],[11.19,9.93],[11.22,9.37],[11.24,10.63],[11.32,9.66],[11.51,11.01],[11.55,10.63],[11.57,11.83],[11.59,6.81],[11.62,11.43],[11.70,9.93],[11.73,10.34],[11.84,11.35],[11.87,10.79],[11.95,11.54],[11.98,10.45],[12.35,10.63],[12.35,9.85],[12.41,11.68],[12.41,8.95],[13.92,12.07],[13.92,7.34],[14.72,11.85],[14.72,8.93]];

const panelData = [linearPts, ridgePts, lassoPts, catboostPts, randomForestPts, lightgbmPts];
const panelYTicks = [yTicksLinear, yTicksOther, yTicksOther, yTicksOther, yTicksOther, yTicksOther];

// ---------- LAYOUT / STYLE ----------
const FS = 74, TITLE_FS = 75;
const colLeft = [173, 1478, 2786];
const rowTop = [148, 1409];
const PW = 1166, PH = 1011;
const titleShift = [-20, 0, -11, 21, 26, 45];
const xLabelShift = [47, 47, 31, 21, 23, 23];
const FONT = '"Liberation Serif","Times New Roman",serif';

const svg = d3.select("#chart");
svg.append("rect").attr("width",4038).attr("height",2579).attr("fill","#fff");

panelData.forEach((pts, i) => {
  const left = colLeft[i % 3], top = rowTop[Math.floor(i / 3)];
  const g = svg.append("g").attr("transform", `translate(${left},${top})`);

  const [xmin, xmax] = d3.extent(pts, d => d[0]);
  const xpad = (xmax - xmin) * 0.05;
  const x = d3.scaleLinear().domain([xmin - xpad, xmax + xpad]).range([0, PW]);
  const ylo = Math.min(d3.min(pts, d => d[1]), xmin);
  const yhi = Math.max(d3.max(pts, d => d[1]), xmax);
  const ypad = (yhi - ylo) * 0.05;
  const y = d3.scaleLinear().domain([ylo - ypad, yhi + ypad]).range([PH, 0]);

  // points
  g.append("g").selectAll("circle").data(pts).join("circle")
    .attr("cx", d => x(d[0])).attr("cy", d => y(d[1])).attr("r", 11.5)
    .attr("fill", "#f26a58").attr("stroke", "#2e2e2e").attr("stroke-width", 3)
    .attr("opacity", 0.7);

  // identity line
  g.append("line")
    .attr("x1", x(xmin)).attr("y1", y(xmin)).attr("x2", x(xmax)).attr("y2", y(xmax))
    .attr("stroke", "#000").attr("stroke-width", 3.6).attr("stroke-dasharray", "37,16");

  // axes
  const xAxis = g.append("g").attr("transform", `translate(0,${PH})`)
    .call(d3.axisBottom(x).tickValues(xTickValues).tickFormat(d3.format("d"))
      .tickSizeInner(-12).tickSizeOuter(0).tickPadding(17));
  const yAxis = g.append("g")
    .call(d3.axisLeft(y).tickValues(panelYTicks[i]).tickFormat(d3.format("d"))
      .tickSizeInner(-12).tickSizeOuter(0).tickPadding(20));
  [xAxis, yAxis].forEach(a => {
    a.attr("font-family", null).attr("font-size", null);
    a.selectAll("text").attr("font-size", FS).attr("fill", "#000").style("font-family", FONT);
    a.selectAll("path,line").attr("stroke", "#000").attr("stroke-width", 3.3);
  });

  // labels
  g.append("text").attr("x", PW / 2 + xLabelShift[i]).attr("y", PH + 132).attr("text-anchor", "middle")
    .attr("font-size", FS).text(xLabel);
  g.append("text").attr("transform", `translate(-105,${PH / 2}) rotate(-90)`)
    .attr("text-anchor", "middle").attr("font-size", FS).text(yLabel);
  g.append("text").attr("x", PW / 2 + titleShift[i]).attr("y", -20).attr("text-anchor", "middle")
    .attr("font-size", TITLE_FS).text(panelTitles[i]);
  g.append("text").attr("x", -162).attr("y", -82).attr("font-size", FS).text(panelLetters[i]);

  // metrics box
  const box = g.append("g");
  const rect = box.append("rect");
  const t1 = box.append("text").attr("x", 59).attr("y", 106).attr("font-size", FS);
  t1.append("tspan").attr("font-style", "italic").text("R");
  t1.append("tspan").attr("dy", -28).attr("font-size", 47).text("2");
  t1.append("tspan").attr("dy", 28).text(": " + r2Values[i]);
  const t2 = box.append("text").attr("x", 59).attr("y", 166).attr("font-size", FS)
    .text("RMSE: " + rmseValues[i]);
  const w = Math.max(t1.node().getComputedTextLength(), t2.node().getComputedTextLength());
  rect.attr("x", 46).attr("y", 46).attr("width", 59 - 46 + w + 9).attr("height", 128)
    .attr("rx", 14).attr("ry", 14)
    .attr("fill", "#f2fbf1").attr("stroke", "#5c7474").attr("stroke-width", 3.5);
});
</script>
</body></html>
